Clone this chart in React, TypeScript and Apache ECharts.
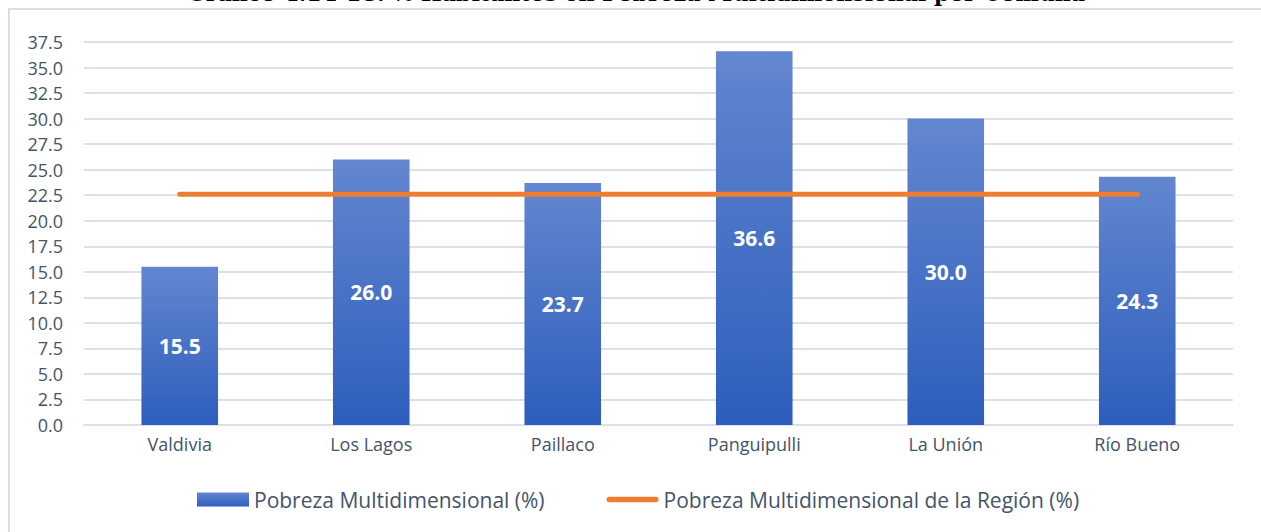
import React, { useEffect, useRef } from "react";
import * as echarts from "echarts";

const titleText = "Gráfico 4.14-18: % Habitantes en Pobreza Multidimensional por Comuna";
const categories = ["Valdivia", "Los Lagos", "Paillaco", "Panguipulli", "La Unión", "Río Bueno"];
const povertyValues = [15.5, 26.0, 23.7, 36.6, 30.0, 24.3];
const regionValue = 22.6;
const regionValues = categories.map(() => regionValue);
const seriesNames = ["Pobreza Multidimensional (%)", "Pobreza Multidimensional de la Región (%)"];

const FONT = "'Open Sans', 'Noto Sans', sans-serif";
const TEXT_COLOR = "#44546A";

export default function App() {
  const ref = useRef<HTMLDivElement>(null);
  useEffect(() => {
    if (!ref.current) return;
    const chart = echarts.init(ref.current, undefined, { renderer: "svg" });
    const barGradient = new echarts.graphic.LinearGradient(0, 0, 0, 1, [
      { offset: 0, color: "#6386CF" },
      { offset: 1, color: "#2D5EBD" },
    ]);
    chart.setOption({
      animation: false,
      backgroundColor: "#ffffff",
      graphic: [
        {
          type: "rect",
          z: -10,
          shape: { x: 9, y: 9, width: 1300, height: 600 },
          style: { fill: "none", stroke: "#D9DEE5", lineWidth: 2 },
        },
        {
          type: "text",
          x: 636,
          y: 4,
          style: {
            text: titleText,
            fill: "#000000",
            font: "bold 22px 'DejaVu Serif', 'Liberation Serif', serif",
            textAlign: "center",
            textVerticalAlign: "bottom",
          },
        },
      ],
      grid: { left: 84, right: 28, top: 42, bottom: 107 },
      legend: {
        left: 192,
        top: 484,
        itemWidth: 52,
        itemHeight: 14,
        itemGap: 62,
        textStyle: { color: TEXT_COLOR, fontSize: 21, fontFamily: FONT },
        data: [
          { name: seriesNames[0], icon: "rect" },
          {
            name: seriesNames[1],
            icon: "path://M3,0 L55,0 A3,3 0 0 1 55,6 L3,6 A3,3 0 0 1 3,0 Z",
            itemStyle: { color: "#ED7D31" },
          },
        ],
      },
      xAxis: {
        type: "category",
        data: categories,
        axisLine: { show: true, lineStyle: { color: "#DDE1E7", width: 2 } },
        axisTick: { show: false },
        axisLabel: { color: TEXT_COLOR, fontSize: 18, fontFamily: FONT, margin: 10 },
      },
      yAxis: {
        type: "value",
        min: 0,
        max: 37.5,
        interval: 2.5,
        axisLine: { show: false },
        axisTick: { show: false },
        splitLine: { lineStyle: { color: "#DDE1E7", width: 2 } },
        axisLabel: {
          color: TEXT_COLOR,
          fontSize: 18,
          fontFamily: FONT,
          margin: 21,
          formatter: (v: number) => v.toFixed(1),
        },
      },
      series: [
        {
          name: seriesNames[0],
          type: "bar",
          data: povertyValues,
          barWidth: "40%",
          itemStyle: { color: barGradient },
          label: {
            show: true,
            position: "inside",
            color: "#ffffff",
            fontSize: 21,
            fontWeight: "bold",
            fontFamily: FONT,
            formatter: (p: any) => Number(p.value).toFixed(1),
          },
        },
        {
          name: seriesNames[1],
          type: "line",
          data: regionValues,
          symbol: "none",
          z: 5,
          lineStyle: { color: "#ED7D31", width: 5, cap: "round" },
          itemStyle: { color: "#ED7D31" },
        },
      ],
    });
    return () => chart.dispose();
  }, []);
  return (
    <div
      ref={ref}
      style={{ position: "fixed", left: 0, top: 0, width: 1261, height: 532 }}
    />
  );
}
